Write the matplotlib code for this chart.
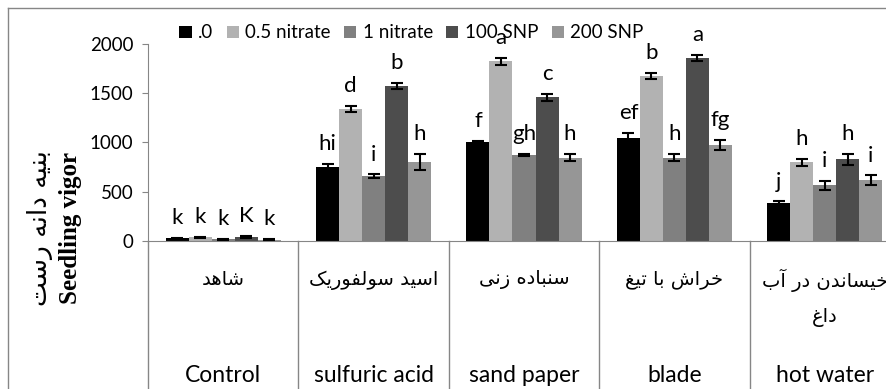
import matplotlib.pyplot as plt
import numpy as np
from matplotlib.lines import Line2D

# data
groups_fa = ['شاهد', 'اسید سولفوریک', 'سنباده زنی', 'خراش با تیغ', 'خیساندن در آب\nداغ']
groups_en = ['Control', 'sulfuric acid', 'sand paper', 'blade', 'hot water']
series = ['.0', '0.5 nitrate', '1 nitrate', '100 SNP', '200 SNP']
colors = ['#000000', '#b2b2b2', '#808080', '#4d4d4d', '#969696']

v_0 = [25, 750, 1000, 1045, 385]
v_05n = [35, 1340, 1825, 1680, 800]
v_1n = [15, 655, 875, 845, 565]
v_100snp = [40, 1575, 1460, 1860, 830]
v_200snp = [12, 800, 845, 975, 615]
values = [v_0, v_05n, v_1n, v_100snp, v_200snp]

e_0 = [5, 30, 20, 50, 15]
e_05n = [5, 30, 35, 30, 35]
e_1n = [5, 20, 10, 35, 45]
e_100snp = [8, 30, 35, 35, 55]
e_200snp = [5, 85, 35, 50, 50]
errors = [e_0, e_05n, e_1n, e_100snp, e_200snp]

l_0 = ['k', 'hi', 'f', 'ef', 'j']
l_05n = ['k', 'd', 'a', 'b', 'h']
l_1n = ['k', 'i', 'gh', 'h', 'i']
l_100snp = ['K', 'b', 'c', 'a', 'h']
l_200snp = ['k', 'h', 'h', 'fg', 'i']
letters = [l_0, l_05n, l_1n, l_100snp, l_200snp]

ylabel_fa = 'بنیه دانه رست'
ylabel_en = 'Seedling vigor'

# simple persian shaping (matplotlib has no complex text layout)
FORMS = {
    'ا': ('\uFE8D', '\uFE8E', None, None),
    'آ': ('\uFE81', '\uFE82', None, None),
    'ب': ('\uFE8F', '\uFE90', '\uFE91', '\uFE92'),
    'ت': ('\uFE95', '\uFE96', '\uFE97', '\uFE98'),
    'خ': ('\uFEA5', '\uFEA6', '\uFEA7', '\uFEA8'),
    'د': ('\uFEA9', '\uFEAA', None, None),
    'ر': ('\uFEAD', '\uFEAE', None, None),
    'ز': ('\uFEAF', '\uFEB0', None, None),
    'س': ('\uFEB1', '\uFEB2', '\uFEB3', '\uFEB4'),
    'ش': ('\uFEB5', '\uFEB6', '\uFEB7', '\uFEB8'),
    'غ': ('\uFECD', '\uFECE', '\uFECF', '\uFED0'),
    'ف': ('\uFED1', '\uFED2', '\uFED3', '\uFED4'),
    'ل': ('\uFEDD', '\uFEDE', '\uFEDF', '\uFEE0'),
    'ن': ('\uFEE5', '\uFEE6', '\uFEE7', '\uFEE8'),
    'ه': ('\uFEE9', '\uFEEA', '\uFEEB', '\uFEEC'),
    'و': ('\uFEED', '\uFEEE', None, None),
    'ی': ('\uFBFC', '\uFBFD', '\uFBFE', '\uFBFF'),
    'ک': ('\uFB8E', '\uFB8F', '\uFB90', '\uFB91'),
}


def shape_line(s):
    out = []
    for i, ch in enumerate(s):
        if ch not in FORMS:
            out.append(ch)
            continue
        prev = s[i - 1] if i > 0 else ''
        nxt = s[i + 1] if i < len(s) - 1 else ''
        join_prev = prev in FORMS and FORMS[prev][2] is not None
        join_next = nxt in FORMS and FORMS[ch][2] is not None
        iso, fin, ini, med = FORMS[ch]
        if join_prev and join_next:
            out.append(med)
        elif join_prev:
            out.append(fin)
        elif join_next:
            out.append(ini)
        else:
            out.append(iso)
    return ''.join(out)[::-1]


def fa(s):
    return '\n'.join(shape_line(line) for line in s.split('\n'))


plt.rcParams['font.family'] = ['Lato', 'DejaVu Sans']

fig = plt.figure(figsize=(8.87, 3.89), dpi=100)
ax = fig.add_axes([148 / 887, 148.3 / 389, 752 / 887, 196.4 / 389])

x = np.arange(len(groups_en))
w = 0.153
for i, name in enumerate(series):
    pos = x + (i - 2) * w
    ax.bar(pos, values[i], w, color=colors[i], label=name, zorder=2)
    ax.errorbar(pos, values[i], yerr=errors[i], fmt='none', ecolor='black',
                elinewidth=1.5, capsize=4, capthick=1.5, zorder=3)
    for p, v, e, t in zip(pos, values[i], errors[i], letters[i]):
        ax.annotate(t, (p, v + e), xytext=(0, 10), textcoords='offset points',
                    ha='center', va='baseline', fontsize=16, annotation_clip=False)

ax.set_xlim(-0.5, 4.5)
ax.set_ylim(0, 2000)
ax.set_yticks([0, 500, 1000, 1500, 2000])
ax.set_xticks([])
ax.tick_params(axis='y', labelsize=13.5, direction='out', length=4.5, color='#868686', pad=6)
for s in ['top', 'right']:
    ax.spines[s].set_visible(False)
for s in ['left', 'bottom']:
    ax.spines[s].set_color('#868686')

# category table lines below the axis
tr = ax.get_xaxis_transform()
for b in np.arange(-0.5, 5, 1.0):
    ax.plot([b, b], [0, -0.76], transform=tr, color='#868686', lw=1, clip_on=False)
for i in range(len(groups_en)):
    lines = groups_fa[i].split('\n')
    for k, line in enumerate(lines):
        ax.text(x[i], -0.2 - 0.19 * k, fa(line), transform=tr, ha='center', va='center',
                fontsize=14, family=['DejaVu Sans'])
    ax.text(x[i], -0.685, groups_en[i], transform=tr, ha='center', va='center', fontsize=16.5)

fig.legend(loc='center left', bbox_to_anchor=(172 / 887, 1 - 33 / 389), ncol=5,
           frameon=False, fontsize=13.5, handlelength=0.65, handleheight=0.65,
           handletextpad=0.35, columnspacing=0.7, borderaxespad=0)

fig.text(40 / 887, 1 - 228 / 389, fa(ylabel_fa), rotation=90, ha='center', va='center',
         fontsize=19, family=['DejaVu Sans'])
fig.text(71 / 887, 1 - 228 / 389, ylabel_en, rotation=90, ha='center', va='center',
         fontsize=18, fontweight='bold', family=['Liberation Serif'])

# outer chart border (top and left visible)
fig.add_artist(Line2D([8 / 887, 1], [1 - 8 / 389, 1 - 8 / 389], transform=fig.transFigure,
                      color='#868686', lw=1))
fig.add_artist(Line2D([8 / 887, 8 / 887], [0, 1 - 8 / 389], transform=fig.transFigure,
                      color='#868686', lw=1))

fig.savefig('out.png', dpi=100)
